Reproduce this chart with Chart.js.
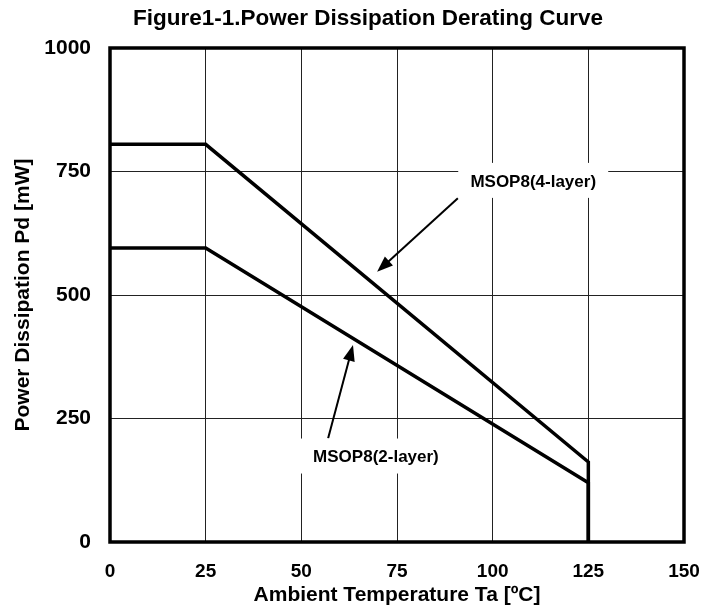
<!DOCTYPE html>
<html>
<head>
<meta charset="utf-8">
<title>Power Dissipation Derating Curve</title>
<script src="https://cdn.jsdelivr.net/npm/chart.js@4.4.0/dist/chart.umd.min.js"></script>
<style>
  html, body { margin: 0; padding: 0; background: #fff; }
  canvas { display: block; }
</style>
</head>
<body>
<canvas id="derating" width="701" height="613"></canvas>
<script>
// Figure1-1 power dissipation derating curve, MSOP8 package.

// --- data ---------------------------------------------------------------
const temps4Layer = [0, 25, 125, 125];      // Ta [ºC]
const pd4Layer    = [805, 805, 162, 0];     // Pd [mW]
const temps2Layer = [0, 25, 125, 125];
const pd2Layer    = [595, 595, 120, 0];

const xTicks = [0, 25, 50, 75, 100, 125, 150];
const yTicks = [0, 250, 500, 750, 1000];

// callouts in data units: label centre, arrow tail, arrow tip
const calloutLabels = ["MSOP8(4-layer)", "MSOP8(2-layer)"];
const calloutText   = [[110.6, 731], [69.5, 173]];
const calloutTail   = [[90.9, 696], [57.0, 210]];
const calloutTip    = [[69.8, 547], [63.5, 399]];

const TITLE = "Figure1-1.Power Dissipation Derating Curve";
const FONT  = "'Liberation Sans', Arial, sans-serif";

function toPoints(xs, ys) {
    return xs.map((x, i) => ({ x: x, y: ys[i] }));
}

// -----------------------------------------------------------------------
// Plot frame + figure title
// -----------------------------------------------------------------------
const framePlugin = {
    id: "frame",
    afterDraw(chart) {
        const { ctx, chartArea: a } = chart;
        ctx.save();
        ctx.strokeStyle = "#000";
        ctx.lineWidth = 3.5;
        ctx.strokeRect(a.left, a.top, a.right - a.left, a.bottom - a.top);

        ctx.fillStyle = "#000";
        ctx.font = "bold 22.5px " + FONT;
        ctx.textAlign = "center";
        ctx.textBaseline = "alphabetic";
        ctx.fillText(TITLE, 368, 25);
        ctx.restore();
    }
};

// -----------------------------------------------------------------------
// Arrows and boxed labels
// -----------------------------------------------------------------------
const calloutPlugin = {
    id: "callouts",
    afterDatasetsDraw(chart) {
        const { ctx } = chart;
        const sx = chart.scales.x, sy = chart.scales.y;
        ctx.save();
        calloutLabels.forEach((label, i) => {
            const x0 = sx.getPixelForValue(calloutTail[i][0]);
            const y0 = sy.getPixelForValue(calloutTail[i][1]);
            const x1 = sx.getPixelForValue(calloutTip[i][0]);
            const y1 = sy.getPixelForValue(calloutTip[i][1]);
            const ang = Math.atan2(y1 - y0, x1 - x0);
            const headLen = 16, headW = 6;

            // shaft
            ctx.strokeStyle = "#000";
            ctx.lineWidth = 2;
            ctx.beginPath();
            ctx.moveTo(x0, y0);
            ctx.lineTo(x1 - Math.cos(ang) * headLen * 0.8, y1 - Math.sin(ang) * headLen * 0.8);
            ctx.stroke();

            // head
            ctx.fillStyle = "#000";
            ctx.beginPath();
            ctx.moveTo(x1, y1);
            ctx.lineTo(x1 - Math.cos(ang) * headLen + Math.sin(ang) * headW,
                       y1 - Math.sin(ang) * headLen - Math.cos(ang) * headW);
            ctx.lineTo(x1 - Math.cos(ang) * headLen - Math.sin(ang) * headW,
                       y1 - Math.sin(ang) * headLen + Math.cos(ang) * headW);
            ctx.closePath();
            ctx.fill();

            // label on a white box that hides the grid behind it
            const cx = sx.getPixelForValue(calloutText[i][0]);
            const cy = sy.getPixelForValue(calloutText[i][1]);
            ctx.fillStyle = "#fff";
            ctx.fillRect(cx - 75, cy - 18, 150, 35);
            ctx.fillStyle = "#000";
            ctx.font = "bold 17px " + FONT;
            ctx.textAlign = "center";
            ctx.textBaseline = "middle";
            ctx.fillText(label, cx, cy + 1);
        });
        ctx.restore();
    }
};

const lineStyle = {
    borderColor: "#000",
    borderWidth: 3.5,
    pointRadius: 0,
    fill: false,
    tension: 0,
    clip: false,
    borderJoinStyle: "miter"
};

new Chart(document.getElementById("derating").getContext("2d"), {
    type: "line",
    data: {
        datasets: [
            Object.assign({ label: "MSOP8(4-layer)", data: toPoints(temps4Layer, pd4Layer) }, lineStyle),
            Object.assign({ label: "MSOP8(2-layer)", data: toPoints(temps2Layer, pd2Layer) }, lineStyle)
        ]
    },
    options: {
        responsive: false,
        animation: false,
        devicePixelRatio: 1,
        layout: { padding: { left: 0, right: 0, top: 48, bottom: 0 } },
        plugins: {
            legend: { display: false },
            tooltip: { enabled: false },
            title: { display: false }
        },
        scales: {
            x: {
                type: "linear",
                min: xTicks[0],
                max: xTicks[xTicks.length - 1],
                afterBuildTicks(scale) { scale.ticks = xTicks.map((v) => ({ value: v })); },
                afterFit(scale) {
                    scale.height = 71;
                    scale.paddingRight = 17;
                    scale.paddingLeft = 0;
                },
                ticks: {
                    color: "#000",
                    padding: 18,
                    maxRotation: 0,
                    callback: (v) => String(v),
                    font: { family: FONT, size: 19, weight: "bold" }
                },
                grid: { color: "#222", lineWidth: 1, drawTicks: false },
                border: { display: false },
                title: {
                    display: true,
                    text: "Ambient Temperature Ta [ºC]",
                    color: "#000",
                    font: { family: FONT, size: 21, weight: "bold" },
                    padding: { top: 0, bottom: 5 }
                }
            },
            y: {
                type: "linear",
                min: yTicks[0],
                max: yTicks[yTicks.length - 1],
                afterBuildTicks(scale) { scale.ticks = yTicks.map((v) => ({ value: v })); },
                afterFit(scale) { scale.width = 110; },
                ticks: {
                    color: "#000",
                    padding: 19,
                    callback: (v) => String(v),
                    font: { family: FONT, size: 21, weight: "bold" }
                },
                grid: { color: "#222", lineWidth: 1, drawTicks: false },
                border: { display: false },
                title: {
                    display: true,
                    text: "Power Dissipation Pd [mW]",
                    color: "#000",
                    font: { family: FONT, size: 21, weight: "bold" },
                    padding: { top: 11, bottom: 0 }
                }
            }
        }
    },
    plugins: [calloutPlugin, framePlugin]
});
</script>
</body>
</html>
